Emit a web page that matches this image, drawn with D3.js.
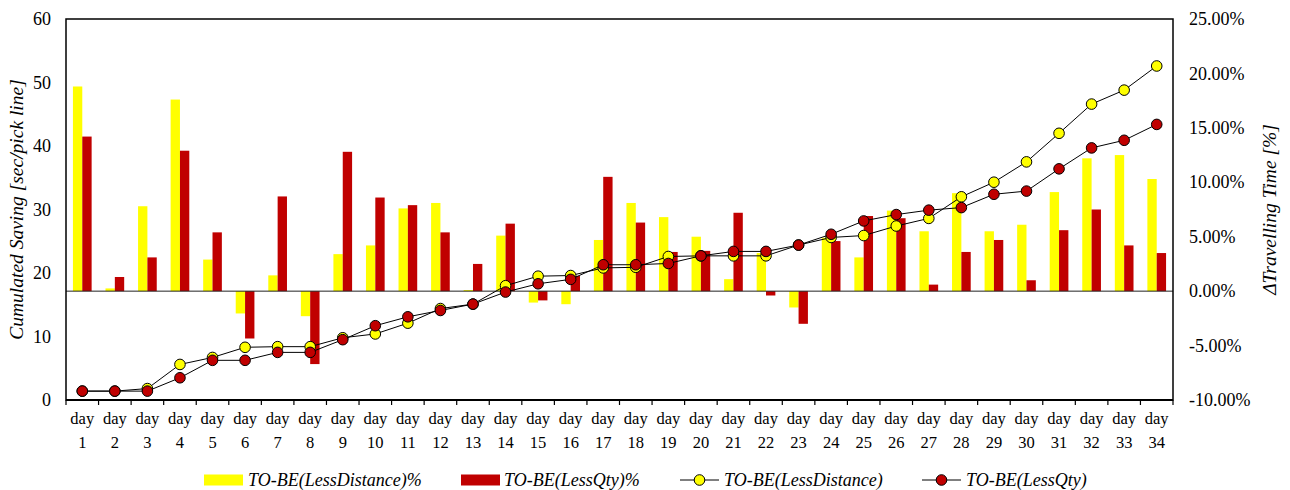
<!DOCTYPE html>
<html><head><meta charset="utf-8">
<script src="https://cdn.jsdelivr.net/npm/d3@7"></script>
<style>body{margin:0;background:#fff}svg{display:block}text{font-family:"Liberation Serif","Times New Roman",serif;fill:#000}</style>
</head><body><svg id="c" width="1290" height="490"></svg>
<script>
const days = d3.range(1,35).map(d => "day " + d);
const pctLessDistance = [18.8,0.25,7.8,17.6,2.9,-2.05,1.45,-2.3,3.4,4.2,7.6,8.1,0.1,5.1,-1.05,-1.2,4.7,8.1,6.8,5.0,1.1,3.5,-1.5,4.9,3.1,7.4,5.5,9.0,5.5,6.1,9.1,12.2,12.5,10.3];
const pctLessQty = [14.2,1.3,3.1,12.9,5.4,-4.35,8.7,-6.7,12.8,8.6,7.9,5.4,2.5,6.2,-0.85,1.4,10.5,6.3,3.6,3.7,7.2,-0.4,-3.0,4.6,6.9,6.7,0.6,3.6,4.7,1.0,5.6,7.5,4.2,3.5];
const cumLessDistance = [1.4,1.4,1.8,5.6,6.7,8.3,8.4,8.4,9.8,10.4,12.1,14.4,15.1,18.0,19.5,19.6,20.8,20.9,22.6,22.7,22.7,22.7,24.4,25.6,25.9,27.4,28.6,32.0,34.3,37.5,42.0,46.6,48.8,52.6];
const cumLessQty = [1.4,1.4,1.4,3.5,6.25,6.25,7.5,7.5,9.5,11.7,13.1,14.1,15.1,17.0,18.3,19.0,21.3,21.3,21.5,22.7,23.4,23.4,24.4,26.1,28.2,29.2,29.9,30.3,32.4,32.9,36.4,39.7,40.9,43.4];
const leftTicks = [0,10,20,30,40,50,60];
const rightTicks = [-10,-5,0,5,10,15,20,25];
const legendLabels = ["TO-BE(LessDistance)%","TO-BE(LessQty)%","TO-BE(LessDistance)","TO-BE(LessQty)"];
const YEL = "#FFFF00", RED = "#C00000";

const svg = d3.select("#c");
const L = 66, R = 1173, T = 19, B = 400;
const x = d3.scaleBand().domain(days).range([L, R]).padding(0);
const yL = d3.scaleLinear().domain([0,60]).range([B, T]);
const yR = d3.scaleLinear().domain([-10,25]).range([B, T]);
const bw = x.bandwidth() * 0.287;
const cx = d => x(d) + x.bandwidth()/2;

// bars
svg.append("g").selectAll("rect").data(days).join("rect")
  .attr("x", d => cx(d) - bw).attr("width", bw)
  .attr("y", (d,i) => yR(Math.max(0, pctLessDistance[i])))
  .attr("height", (d,i) => Math.abs(yR(pctLessDistance[i]) - yR(0)))
  .attr("fill", YEL);
svg.append("g").selectAll("rect").data(days).join("rect")
  .attr("x", d => cx(d)).attr("width", bw)
  .attr("y", (d,i) => yR(Math.max(0, pctLessQty[i])))
  .attr("height", (d,i) => Math.abs(yR(pctLessQty[i]) - yR(0)))
  .attr("fill", RED);

// zero line
svg.append("line").attr("x1", L).attr("x2", R).attr("y1", yR(0)).attr("y2", yR(0))
  .attr("stroke", "#222").attr("stroke-width", 1);

// frame
svg.append("rect").attr("x", L).attr("y", T).attr("width", R-L).attr("height", B-T)
  .attr("fill", "none").attr("stroke", "#000").attr("stroke-width", 1.5);
svg.append("line").attr("x1", L).attr("x2", R).attr("y1", B).attr("y2", B)
  .attr("stroke", "#000").attr("stroke-width", 2.2);

// x axis ticks
const xt = svg.append("g");
xt.selectAll("line").data(d3.range(days.length+1)).join("line")
  .attr("x1", i => L + i*x.bandwidth()).attr("x2", i => L + i*x.bandwidth())
  .attr("y1", B).attr("y2", B+5).attr("stroke", "#000").attr("stroke-width", 1.2);
const xl = xt.selectAll("text").data(days).join("text")
  .attr("text-anchor", "middle").attr("font-size", 16.5);
xl.append("tspan").attr("x", d => cx(d)).attr("y", 424).text(d => d.split(" ")[0]);
xl.append("tspan").attr("x", d => cx(d)).attr("y", 448).text(d => d.split(" ")[1]);

// left axis labels
svg.append("g").selectAll("text").data(leftTicks).join("text")
  .attr("x", 51).attr("y", d => yL(d)).attr("dy", "0.34em")
  .attr("text-anchor", "end").attr("font-size", 18).text(d => d);
// right axis labels
svg.append("g").selectAll("text").data(rightTicks).join("text")
  .attr("x", 1189).attr("y", d => yR(d)).attr("dy", "0.34em")
  .attr("text-anchor", "start").attr("font-size", 18).text(d => d.toFixed(2) + "%");

// axis titles
svg.append("text").attr("transform", `translate(23,${(T+B)/2}) rotate(-90)`)
  .attr("text-anchor", "middle").attr("font-size", 19.5).attr("font-style", "italic")
  .text("Cumulated Saving [sec/pick line]");
svg.append("text").attr("transform", `translate(1276,${(T+B)/2}) rotate(-90)`)
  .attr("text-anchor", "middle").attr("font-size", 19.5).attr("font-style", "italic")
  .text("ΔTravelling Time [%]");

// lines
const line = d3.line().x((v,i) => cx(days[i])).y(v => yL(v));
[[cumLessDistance, YEL],[cumLessQty, RED]].forEach(([arr, col]) => {
  svg.append("path").attr("d", line(arr)).attr("fill", "none").attr("stroke", "#000").attr("stroke-width", 1);
  svg.append("g").selectAll("circle").data(arr).join("circle")
    .attr("cx", (v,i) => cx(days[i])).attr("cy", v => yL(v)).attr("r", 5.3)
    .attr("fill", col).attr("stroke", "#000").attr("stroke-width", 1);
});

// legend
const LY = 480;
const lg = svg.append("g");
lg.append("rect").attr("x", 204).attr("y", LY-5.5).attr("width", 39).attr("height", 11).attr("fill", YEL);
lg.append("text").attr("x", 248).attr("y", LY).attr("dy","0.34em").attr("font-size",18).attr("font-style","italic").text(legendLabels[0]);
lg.append("rect").attr("x", 461).attr("y", LY-5.5).attr("width", 39).attr("height", 11).attr("fill", RED);
lg.append("text").attr("x", 504).attr("y", LY).attr("dy","0.34em").attr("font-size",18).attr("font-style","italic").text(legendLabels[1]);
[[680, YEL, 2],[922, RED, 3]].forEach(([lx, col, k]) => {
  lg.append("line").attr("x1", lx).attr("x2", lx+39).attr("y1", LY).attr("y2", LY).attr("stroke","#000").attr("stroke-width",1);
  lg.append("circle").attr("cx", lx+19.5).attr("cy", LY).attr("r", 5.3).attr("fill", col).attr("stroke","#000");
  lg.append("text").attr("x", lx+44).attr("y", LY).attr("dy","0.34em").attr("font-size",18).attr("font-style","italic").text(legendLabels[k]);
});
</script></body></html>
